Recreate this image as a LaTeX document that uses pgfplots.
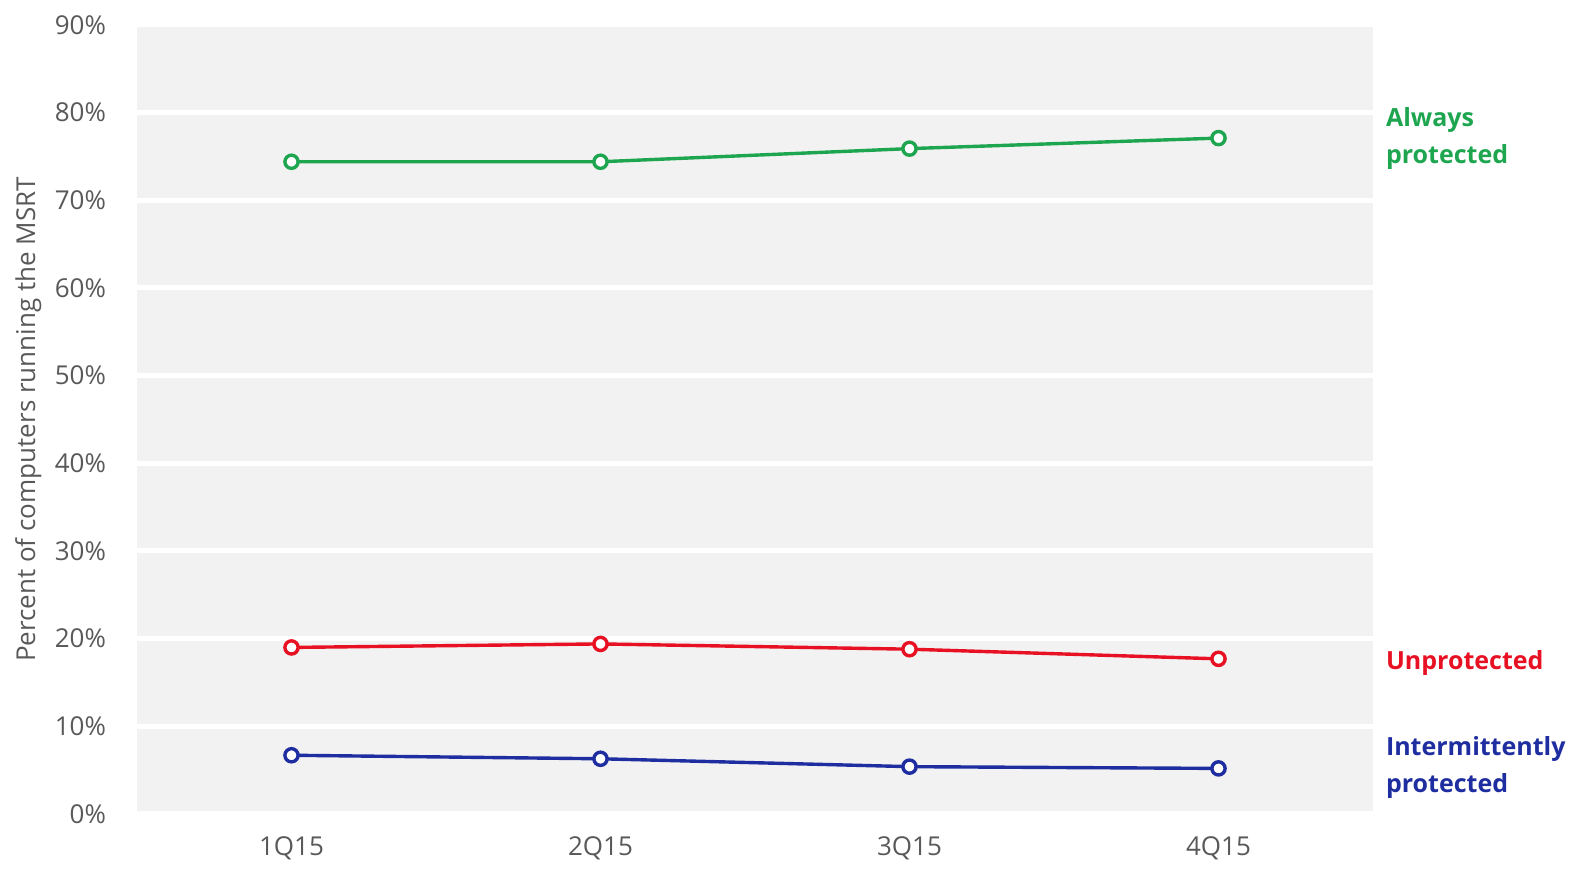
\documentclass[border=0pt]{standalone}
\usepackage{fontspec}
\setmainfont{Open Sans}
\usepackage{pgfplots}
\pgfplotsset{compat=1.18}
\definecolor{bandgray}{HTML}{F2F2F2}
\definecolor{tickgray}{HTML}{595959}
\definecolor{alwaysgreen}{RGB}{30,165,80}
\definecolor{unprotred}{RGB}{232,17,35}
\definecolor{intblue}{RGB}{30,45,160}

\begin{document}
\begin{tikzpicture}
\useasboundingbox (-68.5bp,-29bp) rectangle (724bp,407bp);
\begin{axis}[
  scale only axis,
  width=618bp, height=394.5bp,
  xmin=-0.5, xmax=3.5, ymin=0, ymax=90,
  xtick={0,1,2,3},
  xticklabels={1Q15,2Q15,3Q15,4Q15},
  ytick={0,10,...,90},
  yticklabel={\pgfmathprintnumber[assume math mode=true]{\tick}\%},
  ymajorgrids,
  major grid style={white, line width=2.5bp},
  axis line style={draw=none},
  major tick length=0pt,
  axis background/.style={fill=bandgray},
  tick label style={font=\fontsize{13bp}{15bp}\selectfont, text=tickgray},
  yticklabel style={xshift=-12bp},
  xticklabel style={yshift=-8bp},
  ylabel={Percent of computers running the MSRT},
  ylabel style={at={(axis description cs:-0.088,0.50)}, anchor=center,
    font=\fontsize{13bp}{15bp}\selectfont, text=tickgray},
  clip=false,
  every axis plot/.append style={line width=1.7bp, mark=*, mark size=3.3bp,
    mark options={fill=white, line width=1.7bp}},
]
% Always protected
\addplot[alwaysgreen] coordinates {(0,74.4) (1,74.4) (2,75.9) (3,77.1)};
% Unprotected
\addplot[unprotred] coordinates {(0,19.0) (1,19.4) (2,18.8) (3,17.7)};
% Intermittently protected
\addplot[intblue] coordinates {(0,6.7) (1,6.3) (2,5.4) (3,5.2)};

\node[anchor=west, xshift=3bp, align=left, text=alwaysgreen,
  font=\bfseries\fontsize{12.5bp}{18.5bp}\selectfont] at (axis cs:3.5,77.0) {Always\\protected};
\node[anchor=west, xshift=3bp, align=left, text=unprotred,
  font=\bfseries\fontsize{12.5bp}{18.5bp}\selectfont] at (axis cs:3.5,17.2) {Unprotected};
\node[anchor=west, xshift=3bp, align=left, text=intblue,
  font=\bfseries\fontsize{12.5bp}{18.5bp}\selectfont] at (axis cs:3.5,5.3) {Intermittently\\protected};
\end{axis}
\end{tikzpicture}
\end{document}
